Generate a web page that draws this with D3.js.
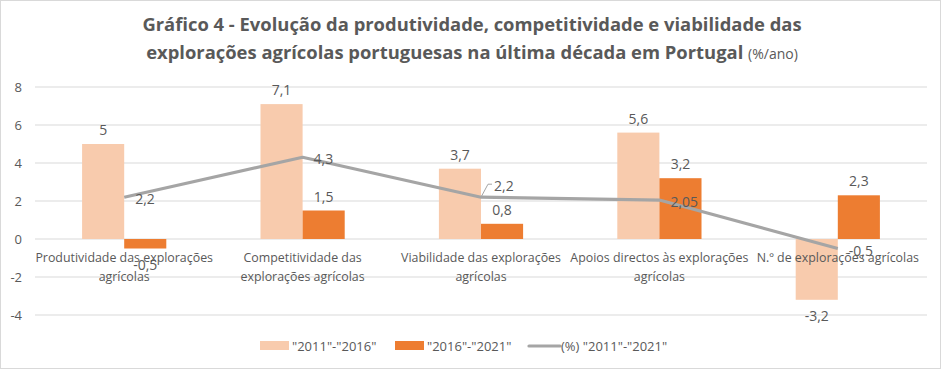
<!DOCTYPE html>
<html>
<head>
<meta charset="utf-8">
<script src="https://cdn.jsdelivr.net/npm/d3@7"></script>
<style>
  body { margin: 0; background: #fff; }
  text { font-family: "Open Sans", "Noto Sans", sans-serif; fill: #595959; }
</style>
</head>
<body>
<script>
// chart data
var categories = ["Produtividade das explorações agrícolas", "Competitividade das explorações agrícolas",
  "Viabilidade das explorações agrícolas", "Apoios directos às explorações agrícolas",
  "N.º de explorações agrícolas"];
var values2011_2016 = [5, 7.1, 3.7, 5.6, -3.2];
var values2016_2021 = [-0.5, 1.5, 0.8, 3.2, 2.3];
var values2011_2021 = [2.2, 4.3, 2.2, 2.05, -0.5];
var seriesNames = ['"2011"-"2016"', '"2016"-"2021"', '(%) "2011"-"2021"'];
var yTicks = [-4, -2, 0, 2, 4, 6, 8];

var W = 946, H = 371;
var margin = {top: 87, right: 19, bottom: 56, left: 35},
    width = W - margin.left - margin.right,
    height = H - margin.top - margin.bottom;

var fmt = function(v) { return String(v).replace(".", ","); };

var svg = d3.select("body").append("svg")
    .attr("width", W)
    .attr("height", H);

// outer frame
svg.append("rect")
    .attr("x", 0.5).attr("y", 0.5)
    .attr("width", W - 6).attr("height", H - 3)
    .attr("fill", "#fff")
    .attr("stroke", "#d9d9d9");

// title
var title = svg.append("text")
    .attr("text-anchor", "middle")
    .style("font-weight", "bold")
    .style("font-size", "18.4px");
title.append("tspan").attr("x", 472).attr("y", 31)
    .text("Gráfico 4 - Evolução da produtividade, competitividade e viabilidade das");
var t2 = title.append("tspan").attr("x", 472).attr("y", 59);
t2.append("tspan").text("explorações agrícolas portuguesas na última década em Portugal ");
t2.append("tspan").style("font-weight", "normal").style("font-size", "14px").text("(%/ano)");

var g = svg.append("g")
    .attr("transform", "translate(" + margin.left + "," + margin.top + ")");

var x = d3.scaleBand().domain(categories).range([0, width]).paddingInner(0).paddingOuter(0);
var y = d3.scaleLinear().domain([-4, 8]).range([height, 0]);
var bw = x.bandwidth() * 0.236;

// gridlines
g.selectAll(".grid")
    .data(yTicks)
  .enter().append("line")
    .attr("x1", 0).attr("x2", width)
    .attr("y1", function(d) { return y(d); })
    .attr("y2", function(d) { return y(d); })
    .attr("stroke", "#d9d9d9")
    .attr("stroke-width", 1);

// y axis labels
var yAxis = d3.axisLeft(y).tickValues(yTicks).tickSize(0).tickPadding(13)
    .tickFormat(function(d) { return String(d); });
g.append("g").call(yAxis)
    .call(function(s) { s.select(".domain").remove(); })
    .selectAll("text")
    .style("font-size", "13px")
    .style("font-family", "'Open Sans', sans-serif")
    .style("fill", "#595959");

// bars
function cx(c) { return x(c) + x.bandwidth() / 2; }

g.selectAll(".bar1")
    .data(values2011_2016)
  .enter().append("rect")
    .attr("x", function(d, i) { return cx(categories[i]) - bw; })
    .attr("width", bw)
    .attr("y", function(d) { return y(Math.max(0, d)); })
    .attr("height", function(d) { return Math.abs(y(d) - y(0)); })
    .attr("fill", "#f8cbad");

g.selectAll(".bar2")
    .data(values2016_2021)
  .enter().append("rect")
    .attr("x", function(d, i) { return cx(categories[i]); })
    .attr("width", bw)
    .attr("y", function(d) { return y(Math.max(0, d)); })
    .attr("height", function(d) { return Math.abs(y(d) - y(0)); })
    .attr("fill", "#ed7d31");

// x axis category labels (wrapped)
var xl = g.selectAll(".xlab")
    .data(categories)
  .enter().append("text")
    .attr("text-anchor", "middle")
    .style("font-size", "12.4px")
    .attr("x", function(d) { return cx(d); })
    .attr("y", y(0) + 23);

xl.each(function(d) {
  var el = d3.select(this), words = d.split(" "), line = [], lines = [];
  var tmp = el.append("tspan");
  words.forEach(function(w) {
    line.push(w);
    tmp.text(line.join(" "));
    if (tmp.node().getComputedTextLength() > x.bandwidth() + 3 && line.length > 1) {
      line.pop();
      lines.push(line.join(" "));
      line = [w];
    }
  });
  lines.push(line.join(" "));
  tmp.remove();
  lines.forEach(function(l, k) {
    el.append("tspan").attr("x", cx(d)).attr("dy", k === 0 ? 0 : 19).text(l);
  });
});

// line series
var line = d3.line()
    .x(function(d, i) { return cx(categories[i]); })
    .y(function(d) { return y(d); });

g.append("path")
    .datum(values2011_2021)
    .attr("d", line)
    .attr("fill", "none")
    .attr("stroke", "#a5a5a5")
    .attr("stroke-width", 3.2)
    .attr("stroke-linejoin", "round");

// data labels for bars
function barLabel(vals, off) {
  g.selectAll(null)
      .data(vals)
    .enter().append("text")
      .attr("text-anchor", "middle")
      .style("font-size", "14px")
      .attr("x", function(d, i) { return cx(categories[i]) + off; })
      .attr("y", function(d) { return d >= 0 ? y(d) - 9 : y(d) + 21; })
      .text(fmt);
}
barLabel(values2011_2016, -bw / 2);
barLabel(values2016_2021, bw / 2);

// data labels for line (one label moved up with leader)
var lineLabelShift = {2: [13, -13]};
values2011_2021.forEach(function(d, i) {
  var px = cx(categories[i]), py = y(d);
  var s = lineLabelShift[i] || [11, 0];
  if (lineLabelShift[i]) {
    g.append("path")
      .attr("d", "M" + px + "," + py + "L" + (px + 7) + "," + (py + s[1]) + "L" + (px + s[0] - 2) + "," + (py + s[1]))
      .attr("fill", "none").attr("stroke", "#a5a5a5").attr("stroke-width", 1);
  }
  g.append("text")
      .style("font-size", "14px")
      .attr("x", px + s[0])
      .attr("y", py + s[1] + 7)
      .text(fmt(d));
});

// legend
var legend = svg.append("g").attr("transform", "translate(0,346)");
var legItems = [
  {x: 260, type: "rect", color: "#f8cbad", name: seriesNames[0]},
  {x: 395, type: "rect", color: "#ed7d31", name: seriesNames[1]},
  {x: 529, type: "line", color: "#a5a5a5", name: seriesNames[2]}
];
legItems.forEach(function(it) {
  if (it.type === "rect") {
    legend.append("rect").attr("x", it.x).attr("y", -5).attr("width", 29).attr("height", 9).attr("fill", it.color);
  } else {
    legend.append("line").attr("x1", it.x).attr("x2", it.x + 31).attr("y1", 0).attr("y2", 0)
      .attr("stroke", it.color).attr("stroke-width", 3.2).attr("stroke-linecap", "round");
  }
  legend.append("text").attr("x", it.x + 32).attr("y", 5).style("font-size", "13px").text(it.name);
});
</script>
</body>
</html>
